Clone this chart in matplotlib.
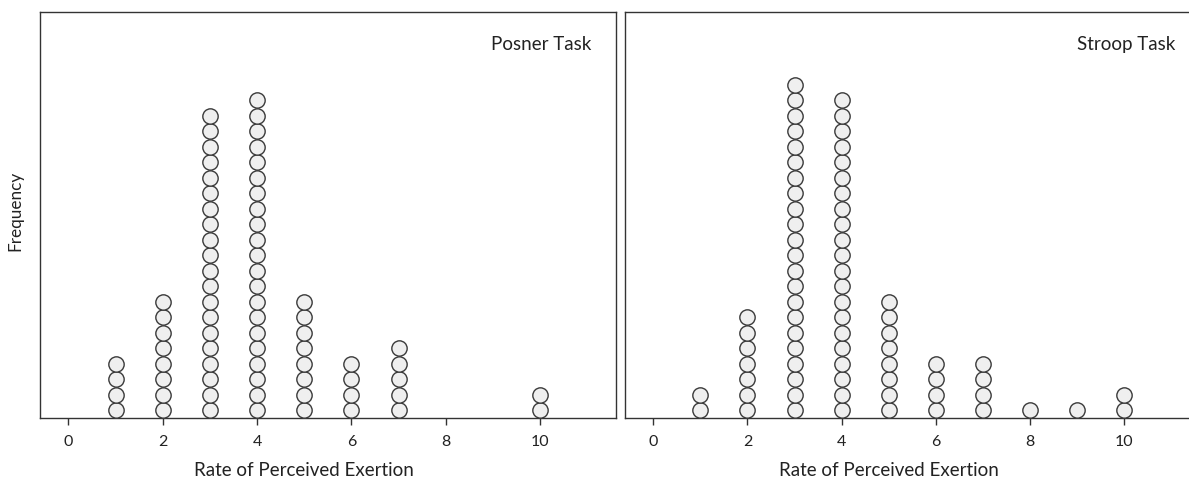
import numpy as np
import matplotlib
matplotlib.use('Agg')
from matplotlib import pyplot as plt

##################
# data: counts per rating
##################
ratings = [0, 1, 2, 3, 4, 5, 6, 7, 8, 9, 10]
posner_counts = [0, 4, 8, 20, 21, 8, 4, 5, 0, 0, 2]
stroop_counts = [0, 2, 7, 22, 21, 8, 4, 4, 1, 1, 2]
tick_vals = [0, 2, 4, 6, 8, 10]
titles = ['Posner Task', 'Stroop Task']

W, H = 1189, 483
fig = plt.figure(figsize=(W / 100, H / 100), dpi=100)

label_font = ['Lato', 'DejaVu Sans']
XMIN, XMAX = -0.6, 11.6


def dot_plot(ax, counts, title):
    xs, ys = [], []
    for r, c in zip(ratings, counts):
        for i in range(c):
            xs.append(r)
            ys.append(i)
    ax.scatter(xs, ys, s=122, facecolor='#efefef', edgecolor='#3a3a3a',
               linewidth=1.0, zorder=3, clip_on=False)
    ax.set_xlim(XMIN, XMAX)
    ax.set_ylim(-0.516, 25.68)
    ax.set_yticks([])
    ax.set_xticks(tick_vals)
    ax.set_xticklabels([str(t) for t in tick_vals], family=label_font, fontsize=11.5,
                       color='#222222')
    ax.tick_params(axis='x', direction='out', length=5, width=1, color='#333333', pad=7)
    for s in ax.spines.values():
        s.set_color('#333333')
        s.set_linewidth(1.0)
    # xlabel is centred on the 0-10 range, not on the axes
    xc = (5 - XMIN) / (XMAX - XMIN)
    ax.text(xc, -53 / 406, 'Rate of Perceived Exertion', transform=ax.transAxes,
            ha='center', va='center', family=label_font, fontsize=13.5, color='#222222')
    ax.text(0.958, 0.919, title, transform=ax.transAxes, ha='right', va='center',
            family=label_font, fontsize=13.5, color='#222222')


# axes positions in pixels
ax1 = fig.add_axes([40 / W, (H - 418) / H, 575.7 / W, 406 / H])
ax2 = fig.add_axes([625 / W, (H - 418) / H, 574.5 / W, 406 / H])

dot_plot(ax1, posner_counts, titles[0])
dot_plot(ax2, stroop_counts, titles[1])

fig.text(15 / W, (H - 211) / H, 'Frequency', rotation=90, ha='center', va='center',
         family=label_font, fontsize=12.3, color='#222222')

fig.savefig('out.png', dpi=100)
